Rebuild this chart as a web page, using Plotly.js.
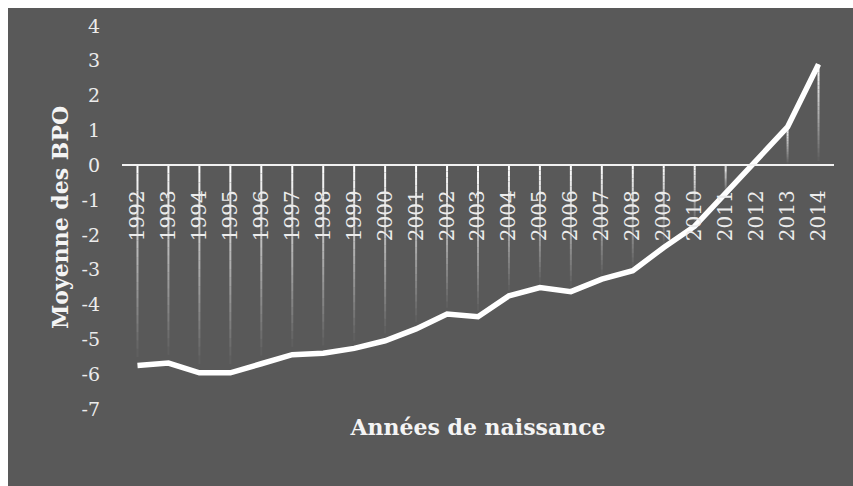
<!DOCTYPE html>
<html>
<head>
<meta charset="utf-8">
<script src="https://cdn.plot.ly/plotly-3.0.1.min.js"></script>
<style>
  html, body { margin: 0; padding: 0; background: #ffffff; }
  #chart { position: absolute; left: 8px; top: 8px; width: 845px; height: 478px; }
</style>
</head>
<body>
<div id="chart"></div>
<script>
// Mean BPO by birth year
const years = ['1992','1993','1994','1995','1996','1997','1998','1999','2000','2001','2002',
               '2003','2004','2005','2006','2007','2008','2009','2010','2011','2012','2013','2014'];
const bpoMeans = [-5.75, -5.68, -5.96, -5.96, -5.70, -5.44, -5.40, -5.26, -5.04, -4.70, -4.27,
                  -4.35, -3.75, -3.51, -3.63, -3.27, -3.03, -2.36, -1.75, -0.80, 0.18, 1.10, 2.90];
const yTickValues = [-7, -6, -5, -4, -3, -2, -1, 0, 1, 2, 3, 4];
const yTickLabels = ['-7', '-6', '-5', '-4', '-3', '-2', '-1', '0', '1', '2', '3', '4'];

const serif = 'DejaVu Serif, Liberation Serif, serif';
const panelGrey = '#595959';

// Drop lines from each point to the zero axis, fading from top to bottom.
// Each fade step is one trace holding a short slice of every drop line.
const FADE_STEPS = 24;
const dropTraces = [];
for (let k = 0; k < FADE_STEPS; k++) {
  const xs = [], ys = [];
  years.forEach((yr, i) => {
    const top = Math.max(0, bpoMeans[i]);
    const bottom = Math.min(0, bpoMeans[i]);
    const span = top - bottom;
    xs.push(yr, yr, null);
    ys.push(top - span * k / FADE_STEPS, top - span * (k + 1) / FADE_STEPS, null);
  });
  dropTraces.push({
    type: 'scatter', mode: 'lines', x: xs, y: ys,
    line: { color: '#ffffff', width: 2 },
    opacity: Math.max(0, 1 - k / (FADE_STEPS * 0.95)),
    hoverinfo: 'skip', showlegend: false
  });
}

const mainLine = {
  type: 'scatter', mode: 'lines', x: years, y: bpoMeans,
  line: { color: '#ffffff', width: 5.5 },
  showlegend: false
};

const layout = {
  width: 845, height: 478,
  margin: { l: 113.5, r: 18.5, t: 18, b: 77 },
  paper_bgcolor: panelGrey,
  plot_bgcolor: panelGrey,
  showlegend: false,
  xaxis: {
    type: 'category',
    range: [-0.5, years.length - 0.5],
    anchor: 'free',
    position: 7 / 11,
    showline: true, linecolor: '#f2f2f2', linewidth: 2,
    showgrid: false, zeroline: false,
    ticks: '', tickangle: -90,
    ticklabelstandoff: 16,
    tickfont: { family: serif, size: 20, color: '#ececec' },
    title: {
      text: 'Années de naissance',
      standoff: 178,
      font: { family: serif, size: 22, color: '#f4f4f4', weight: 'bold' }
    }
  },
  yaxis: {
    range: [-7, 4],
    tickmode: 'array', tickvals: yTickValues, ticktext: yTickLabels,
    showgrid: false, zeroline: false, showline: false,
    ticks: '', ticklabelstandoff: 21,
    tickfont: { family: serif, size: 19, color: '#ececec' },
    title: {
      text: 'Moyenne des BPO',
      standoff: 6,
      font: { family: serif, size: 22, color: '#f4f4f4', weight: 'bold' }
    }
  }
};

Plotly.newPlot('chart', dropTraces.concat([mainLine]), layout, { displayModeBar: false, staticPlot: true });
</script>
</body>
</html>
